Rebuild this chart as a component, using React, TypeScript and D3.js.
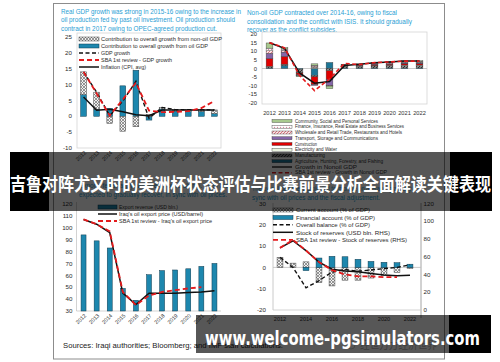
import React from 'react';
import * as d3 from 'd3';

const years = ['2012', '2013', '2014', '2015', '2016', '2017', '2018', '2019', '2020', '2021', '2022'];

// top-left: real GDP growth
const oilContribution = [6.8, 2.2, 2.5, 9.6, 14.5, -1.2, 2.3, 1.6, 1.5, 1.5, 0.8];
const nonOilContribution = [7.2, 5.4, -2.2, -4.7, -3.3, 0.6, 0.5, 0.5, 0.6, 0.6, 1.2];
const gdpGrowth = [14, 7.6, 0.2, 4.8, 11, -0.6, 2.8, 2.1, 2.1, 2.1, 2.0];
const sbaGdpGrowth = [14, 7.2, 0.2, 5.3, 10.6, 1.8, 1.3, 1.4, 1.6, 2.6, 4.8];
const inflation = [6.1, 1.9, 2.2, 1.4, 0.5, 0.2, 2.0, 2.0, 2.0, 2.0, 2.0];

// top-right: non-oil GDP by sector
const agriculture = [0.3, 1.8, -0.5, -4.0, 3.5, 0.3, 0.3, 0.3, 0.3, 0.3, 0.3];
const manufacturing = [0.7, 0.5, -2.0, -0.8, -1.0, 1.0, 1.0, 1.2, 1.3, 1.4, 1.4];
const electricity = [0.3, 0.2, -0.1, 0.6, -0.3, 0.2, 0.3, 0.3, 0.3, 0.3, 0.3];
const construction = [4.5, 4.5, -1.0, -4.5, -5.0, 0.3, 0.3, 0.5, 0.6, 0.7, 0.7];
const transport = [3.0, 2.5, -0.3, -0.5, -3.5, 0.1, 0.2, 0.3, 0.4, 0.5, 0.5];
const wholesale = [1.5, 1.0, -0.3, 0.8, -0.2, 0.1, 0.2, 0.4, 0.4, 0.5, 0.5];
const finance = [1.5, 0.8, -0.2, 0.5, -0.2, 0.1, 0.2, 0.3, 0.4, 0.5, 0.5];
const community = [3.0, 0.8, -0.3, 0.8, -1.5, 0.2, 0.2, 0.3, 0.3, 0.3, 0.3];
const nonOilGrowth = [14.9, 11.7, -2.6, -8.5, -7.5, 1.8, 2.4, 3.4, 3.8, 4.3, 4.3];
const sbaNonOilGrowth = [15, 12, -4, -12.8, -6, 3, 2.3, 3.4, 3.8, 4.3, 4.3];

// bottom-left: exports
const exportRevenue = [94, 89, 83, 49, 39, 60.5, 64, 64.5, 65.5, 67.5, 70];
const oilExportPrice = [107, 103, 96, 45, 35.5, 45, 45, 45, 45.5, 46, 47];
const sbaOilExportPrice = [107, 103, 97, 46, 35, 43, 46, 47.5, 49, 50];

// bottom-right: balance of payments
const currentAccount = [4.7, 2.0, 2.6, -7.1, -8.7, -6.0, -6.0, -5.0, -3.8, -2.3, -0.5];
const financialAccount = [0, 0, -1.5, 4.4, 5.2, 5.0, 3.8, 2.8, 2.4, 2.2, 1.5];
const overallBalance = [4.7, 0, -9.6, -6.2, -2.2, -1.0, -1.8, -1.2, -0.6, 0, 1.2];
const reserves = [70, 78, 67, 54, 46, 44, 43, 41, 39.5, 38.5, 39.2];
const sbaReserves = [70, 79, 67, 54, 45, 40, 38, 38, 37, 37];

const tlTicks = [-10, -5, 0, 5, 10, 15, 20, 25];
const trTicks = [-20, -15, -10, -5, 0, 5, 10, 15, 20];
const blTicks = [30, 40, 50, 60, 70, 80, 90, 100, 110, 120];
const brLeftTicks = [-20, -10, 0, 10, 20, 30];
const brRightTicks = [0, 20, 40, 60, 80, 100, 120];
const brYearLabels = ['2012', '2014', '2016', '2018', '2020', '2022'];

const sectorKeys = ['agriculture', 'manufacturing', 'electricity', 'construction', 'transport', 'wholesale', 'finance', 'community'];
const sectorValues: Record<string, number[]> = { agriculture, manufacturing, electricity, construction, transport, wholesale, finance, community };
const sectorFill: Record<string, string> = {
  agriculture: '#1d7696', manufacturing: 'url(#pManu)', electricity: '#eaf3df', construction: '#e00000',
  transport: '#8466a8', wholesale: 'url(#pWhole)', finance: 'url(#pFin)', community: '#a8c98e',
};
const sectorLegend = [
  ['community', 'Community, Social and Personal Services', 83],
  ['finance', 'Finance, Insurance, Real Estate and Business Services', 109],
  ['wholesale', 'Wholesale and Retail Trade, Restaurants and Hotels', 107],
  ['transport', 'Transport, Storage and Communications', 83],
  ['construction', 'Construction', 22],
  ['electricity', 'Electricity and Water', 42],
  ['manufacturing', 'Manufacturing', 30],
  ['agriculture', 'Agriculture, Hunting, Forestry, and Fishing', 88],
];

const FONT = "'Liberation Sans', Arial, sans-serif";
const TEAL = '#2aa0d4';
const BLUE = '#1d87ae';
const BLUE_EDGE = '#0e3a4e';

const T = (p: { x: number; y: number; s: number; w?: number; fill?: string; anchor?: string; bold?: boolean; children: React.ReactNode; transform?: string }) => (
  <text x={p.x} y={p.y} fontSize={p.s} fill={p.fill || '#2a2a2a'} textAnchor={p.anchor || 'start'}
    fontWeight={p.bold ? 'bold' : 'normal'} fontFamily={FONT} transform={p.transform}
    {...(p.w ? { textLength: p.w, lengthAdjust: 'spacingAndGlyphs' } : {})}>{p.children}</text>
);

export default function App() {
  // ---------- top-left ----------
  const x1 = d3.scaleBand<string>().domain(years).range([77, 221]).paddingInner(0.56).paddingOuter(0.28);
  const y1 = d3.scaleLinear().domain([-10, 25]).range([148, 37]);
  const c1 = (i: number) => (x1(years[i]) as number) + x1.bandwidth() / 2;
  const s1 = d3.stack<any>().keys(['oil', 'nonOil']).offset(d3.stackOffsetDiverging)(
    years.map((y, i) => ({ year: y, oil: oilContribution[i], nonOil: nonOilContribution[i] })));
  const line1 = d3.line<number>().x((d, i) => c1(i)).y(d => y1(d));

  // ---------- top-right ----------
  const x2 = d3.scaleBand<string>().domain(years).range([262, 427]).paddingInner(0.55).paddingOuter(0.275);
  const y2 = d3.scaleLinear().domain([-20, 20]).range([103, 34]);
  const c2 = (i: number) => (x2(years[i]) as number) + x2.bandwidth() / 2;
  const s2 = d3.stack<any>().keys(sectorKeys).offset(d3.stackOffsetDiverging)(
    years.map((y, i) => { const o: any = { year: y }; sectorKeys.forEach(k => { o[k] = sectorValues[k][i]; }); return o; }));
  const line2 = d3.line<number>().x((d, i) => c2(i)).y(d => y2(d));

  // ---------- bottom-left ----------
  const x3 = d3.scaleBand<string>().domain(years).range([77, 221]).paddingInner(0.62).paddingOuter(0.31);
  const y3 = d3.scaleLinear().domain([30, 120]).range([311, 204]);
  const c3 = (i: number) => (x3(years[i]) as number) + x3.bandwidth() / 2;
  const line3 = d3.line<number>().x((d, i) => c3(i)).y(d => y3(d));

  // ---------- bottom-right ----------
  const x4 = d3.scaleBand<string>().domain(years).range([273.5, 416.5]).paddingInner(0.55).paddingOuter(0.275);
  const yL = d3.scaleLinear().domain([-20, 30]).range([310, 203.5]);
  const yR = d3.scaleLinear().domain([0, 120]).range([310, 203.5]);
  const c4 = (i: number) => (x4(years[i]) as number) + x4.bandwidth() / 2;
  const s4 = d3.stack<any>().keys(['current', 'financial']).offset(d3.stackOffsetDiverging)(
    years.map((y, i) => ({ year: y, current: currentAccount[i], financial: financialAccount[i] })));
  const lineL = d3.line<number>().x((d, i) => c4(i)).y(d => yL(d));
  const lineR = d3.line<number>().x((d, i) => c4(i)).y(d => yR(d));

  return (
    <svg width={500} height={362} style={{ position: 'absolute', left: 0, top: 0, background: '#fff' }}>
      <defs>
        <pattern id="pNonOil" width="3" height="3" patternUnits="userSpaceOnUse">
          <rect width="3" height="3" fill="#f0f0f0" />
          <path d="M0,0L3,3M0,3L3,0" stroke="#707070" strokeWidth="0.7" />
        </pattern>
        <pattern id="pManu" width="3" height="3" patternUnits="userSpaceOnUse">
          <rect width="3" height="3" fill="#8a8a8a" />
          <path d="M0,3L3,0" stroke="#262626" strokeWidth="0.9" />
        </pattern>
        <pattern id="pWhole" width="3" height="3" patternUnits="userSpaceOnUse">
          <rect width="3" height="3" fill="#fbe3e3" />
          <path d="M0,3L3,0" stroke="#d45a6a" strokeWidth="0.8" />
        </pattern>
        <pattern id="pFin" width="3" height="3" patternUnits="userSpaceOnUse">
          <rect width="3" height="3" fill="#ffffff" />
          <circle cx="1.5" cy="1.5" r="0.7" fill="#d88aa0" />
        </pattern>
      </defs>

      {/* page */}
      <rect x={53.5} y={3.5} width={391} height={355.5} fill="#fff" stroke="#8c8c8c" strokeWidth={1} />

      {/* ================= top-left ================= */}
      <T x={61} y={14} s={7} fill={TEAL} w={180}>Real GDP growth was strong in 2015-16 owing to the increase in</T>
      <T x={61} y={22.4} s={7} fill={TEAL} w={174}>oil production fed by past oil investment. Oil production should</T>
      <T x={61} y={30.8} s={7} fill={TEAL} w={156}>contract in 2017 owing to OPEC-agreed production cut.</T>
      <rect x={77} y={33} width={144} height={115} fill="none" stroke="#d4d4d4" strokeWidth={0.8} />
      {tlTicks.map(t => <T key={t} x={72} y={y1(t) + 2.2} s={6.2} anchor="end">{t}</T>)}
      {s1.map(series => series.map((d, i) => (
        <rect key={series.key + i} x={x1(years[i])} width={x1.bandwidth()} y={y1(Math.max(d[0], d[1]))}
          height={Math.abs(y1(d[0]) - y1(d[1]))}
          fill={series.key === 'oil' ? BLUE : 'url(#pNonOil)'} stroke={series.key === 'oil' ? BLUE_EDGE : '#444'} strokeWidth={0.5} />
      )))}
      <path d={line1(inflation) || ''} fill="none" stroke="#111" strokeWidth={1.5} />
      <path d={line1(gdpGrowth) || ''} fill="none" stroke="#111" strokeWidth={1.4} strokeDasharray="4 2.5" />
      <path d={line1(sbaGdpGrowth) || ''} fill="none" stroke="#e41a1c" strokeWidth={1.8} strokeDasharray="5 3" />
      {years.map((y, i) => <T key={y} x={c1(i) + 3} y={153} s={5.4} anchor="end" transform={`rotate(-45 ${c1(i) + 3} 153)`}>{y}</T>)}
      {/* legend */}
      <rect x={79} y={37} width={20} height={4} fill="url(#pNonOil)" stroke="#444" strokeWidth={0.5} />
      <rect x={79} y={44} width={20} height={4} fill={BLUE} stroke={BLUE_EDGE} strokeWidth={0.5} />
      <line x1={79} x2={99} y1={53} y2={53} stroke="#111" strokeWidth={1.4} strokeDasharray="4 2.5" />
      <line x1={79} x2={99} y1={60} y2={60} stroke="#e41a1c" strokeWidth={1.8} strokeDasharray="5 3" />
      <line x1={79} x2={99} y1={67} y2={67} stroke="#111" strokeWidth={1.5} />
      <T x={101} y={41} s={5.8} w={121}>Contribution to overall growth from non-oil GDP</T>
      <T x={101} y={48} s={5.8} w={107}>Contribution to overall growth from oil GDP</T>
      <T x={101} y={55} s={5.8} w={29}>GDP growth</T>
      <T x={101} y={62} s={5.8} w={71}>SBA 1st review - GDP growth</T>
      <T x={101} y={69} s={5.8} w={45}>Inflation (CPI, avg)</T>

      {/* ================= top-right ================= */}
      <T x={247} y={15} s={7} fill={TEAL} w={150}>Non-oil GDP contracted over 2014-16, owing to fiscal</T>
      <T x={247} y={23.5} s={7} fill={TEAL} w={165}>consolidation and the conflict with ISIS. It should gradually</T>
      <T x={247} y={32} s={7} fill={TEAL} w={90}>recover as the conflict subsides.</T>
      <rect x={262} y={32} width={165} height={72} fill="none" stroke="#d4d4d4" strokeWidth={0.8} />
      {trTicks.map(t => <T key={t} x={257} y={y2(t) + 2} s={5.8} anchor="end">{t}</T>)}
      <line x1={262} x2={427} y1={y2(0)} y2={y2(0)} stroke="#bdbdbd" strokeWidth={0.8} />
      {s2.map(series => series.map((d, i) => (
        Math.abs(d[1] - d[0]) < 1e-9 ? null :
          <rect key={series.key + i} x={x2(years[i])} width={x2.bandwidth()} y={y2(Math.max(d[0], d[1]))}
            height={Math.abs(y2(d[0]) - y2(d[1]))} fill={sectorFill[series.key]} stroke="#3a3a3a" strokeWidth={0.4} />
      )))}
      <path d={line2(nonOilGrowth) || ''} fill="none" stroke="#111" strokeWidth={1.5} />
      <path d={line2(sbaNonOilGrowth) || ''} fill="none" stroke="#e41a1c" strokeWidth={1.6} strokeDasharray="4 2.5" />
      {years.map((y, i) => <T key={y} x={c2(i)} y={115} s={5.7} anchor="middle" fill="#333">{y}</T>)}
      {sectorLegend.map(([k, label, w], i) => (
        <g key={k as string}>
          <rect x={272} y={119.5 + i * 5.75} width={20} height={3} fill={sectorFill[k as string]} stroke="#3a3a3a" strokeWidth={0.4} />
          <T x={295} y={122.7 + i * 5.75} s={4.5} w={w as number}>{label}</T>
        </g>
      ))}
      <line x1={272} x2={292} y1={121 + 8 * 5.75} y2={121 + 8 * 5.75} stroke="#111" strokeWidth={1.3} />
      <T x={295} y={122.7 + 8 * 5.75} s={4.5} w={62}>Growth in Nonoil GDP</T>
      <line x1={272} x2={292} y1={121 + 9 * 5.75} y2={121 + 9 * 5.75} stroke="#e41a1c" strokeWidth={1.4} strokeDasharray="4 2.5" />
      <T x={295} y={122.7 + 9 * 5.75} s={4.5} w={92}>SBA 1st review - Growth in Nonoil GDP</T>

      {/* ================= bottom-left ================= */}
      <T x={79} y={188} s={7} fill={TEAL} w={150}>Exports fell sharply with the oil price slump. They are</T>
      <T x={79} y={197} s={7} fill={TEAL} w={148}>expected to gradually recover, in sync with oil prices.</T>
      <line x1={76.5} x2={76.5} y1={202} y2={311} stroke="#c8c8c8" strokeWidth={0.8} />
      <line x1={76.5} x2={221} y1={311} y2={311} stroke="#c8c8c8" strokeWidth={0.8} />
      {blTicks.map(t => <T key={t} x={72.5} y={y3(t) + 2.2} s={6.2} anchor="end">{t}</T>)}
      {exportRevenue.map((v, i) => (
        <rect key={i} x={x3(years[i])} width={x3.bandwidth()} y={y3(v)} height={y3(30) - y3(v)} fill={BLUE} stroke={BLUE_EDGE} strokeWidth={0.5} />
      ))}
      <path d={line3(oilExportPrice) || ''} fill="none" stroke="#111" strokeWidth={1.5} />
      <path d={line3(sbaOilExportPrice) || ''} fill="none" stroke="#e41a1c" strokeWidth={1.8} strokeDasharray="5 3" />
      {years.map((y, i) => <T key={y} x={c3(i) + 3} y={316} s={5.4} anchor="end" transform={`rotate(-45 ${c3(i) + 3} 316)`}>{y}</T>)}
      <rect x={98} y={205} width={19} height={4} fill={BLUE} stroke={BLUE_EDGE} strokeWidth={0.5} />
      <line x1={98} x2={117} y1={214} y2={214} stroke="#111" strokeWidth={1.5} />
      <line x1={98} x2={117} y1={221} y2={221} stroke="#e41a1c" strokeWidth={1.8} strokeDasharray="5 3" />
      <T x={119} y={209} s={5.8} w={59}>Export revenue (USD bln.)</T>
      <T x={119} y={216} s={5.8} w={84}>Iraq's oil export price (USD/barrel)</T>
      <T x={119} y={223} s={5.8} w={93}>SBA 1st review - Iraq's oil export price</T>
      <T x={63} y={348} s={6.4} w={220} fill="#222">Sources: Iraqi authorities; Bloomberg; and IMF staff calculations.</T>

      {/* ================= bottom-right ================= */}
      <T x={252} y={191} s={7} fill={TEAL} w={165}>The overall balance is projected to improve on average, gradually in</T>
      <T x={252} y={200} s={7} fill={TEAL} w={128}>sync with oil prices and the fiscal adjustment.</T>
      <line x1={273} x2={273} y1={203} y2={310} stroke="#bdbdbd" strokeWidth={0.8} />
      <line x1={421} x2={421} y1={203} y2={318} stroke="#9a9a9a" strokeWidth={0.9} />
      <line x1={273} x2={421} y1={310} y2={310} stroke="#c8c8c8" strokeWidth={0.8} />
      <line x1={273} x2={421} y1={yL(0)} y2={yL(0)} stroke="#bdbdbd" strokeWidth={0.8} />
      {brLeftTicks.map(t => <T key={t} x={266} y={yL(t) + 2.2} s={6.2} anchor="end">{t}</T>)}
      {brRightTicks.map(t => <T key={t} x={423.5} y={yR(t) + 2.2} s={6.2}>{t}</T>)}
      {s4.map(series => series.map((d, i) => (
        Math.abs(d[1] - d[0]) < 1e-9 ? null :
          <rect key={series.key + i} x={x4(years[i])} width={x4.bandwidth()} y={yL(Math.max(d[0], d[1]))}
            height={Math.abs(yL(d[0]) - yL(d[1]))}
            fill={series.key === 'financial' ? BLUE : 'url(#pNonOil)'} stroke={series.key === 'financial' ? BLUE_EDGE : '#444'} strokeWidth={0.5} />
      )))}
      <path d={lineR(reserves) || ''} fill="none" stroke="#111" strokeWidth={1.5} />
      <path d={lineL(overallBalance) || ''} fill="none" stroke="#111" strokeWidth={1.4} strokeDasharray="4 2.5" />
      <path d={lineR(sbaReserves) || ''} fill="none" stroke="#e41a1c" strokeWidth={1.8} strokeDasharray="5 3" />
      {brYearLabels.map(y => <T key={y} x={c4(years.indexOf(y))} y={321} s={5.6} anchor="middle" fill="#333">{y}</T>)}
      <rect x={273} y={208} width={20} height={4} fill="url(#pNonOil)" stroke="#444" strokeWidth={0.5} />
      <rect x={273} y={215.5} width={20} height={4} fill={BLUE} stroke={BLUE_EDGE} strokeWidth={0.5} />
      <line x1={273} x2={293} y1={224.7} y2={224.7} stroke="#111" strokeWidth={1.4} strokeDasharray="4 2.5" />
      <line x1={273} x2={293} y1={232.3} y2={232.3} stroke="#111" strokeWidth={1.5} />
      <line x1={273} x2={293} y1={239.9} y2={239.9} stroke="#e41a1c" strokeWidth={1.8} strokeDasharray="5 3" />
      <T x={296} y={212} s={5.9} w={74}>Current account (% of GDP)</T>
      <T x={296} y={219.6} s={5.9} w={79}>Financial account (% of GDP)</T>
      <T x={296} y={227.2} s={5.9} w={74}>Overall balance (% of GDP)</T>
      <T x={296} y={234.8} s={5.9} w={94}>Stock of reserves (USD bln. RHS)</T>
      <T x={296} y={242.4} s={5.9} w={111}>SBA 1st review - Stock of reserves (RHS)</T>

      {/* watermark */}
      <circle cx={351} cy={345} r={4} fill="none" stroke="#c4c4c4" strokeWidth={0.8} />
      <text x={360} y={349} fontSize={10} fill="#b5b5b5" fontFamily="'Noto Sans CJK SC', sans-serif" textLength={77} lengthAdjust="spacingAndGlyphs">经世万方经济世界</text>

      {/* ================= banners ================= */}
      <rect x={10} y={152} width={39} height={59} fill="#000" />
      <rect x={49} y={152} width={401} height={59} fill="#000" fillOpacity={0.66} />
      <rect x={450} y={152} width={42} height={59} fill="#000" />
      <text x={10} y={190.5} fontSize={18} fill="#fff" fontWeight="bold" fontFamily="'Noto Sans CJK SC', sans-serif"
        textLength={481} lengthAdjust="spacingAndGlyphs">吉鲁对阵尤文时的美洲杯状态评估与比赛前景分析全面解读关键表现</text>

      <rect x={196} y={315} width={253} height={38} fill="#000" fillOpacity={0.66} />
      <rect x={449} y={315} width={42} height={38} fill="#000" />
      <text x={205} y={345} fontSize={20} fill="#fff" fontWeight="bold" fontFamily="'DejaVu Sans', sans-serif"
        textLength={275} lengthAdjust="spacingAndGlyphs">www.welcome-pgsimulators.com</text>
    </svg>
  );
}
